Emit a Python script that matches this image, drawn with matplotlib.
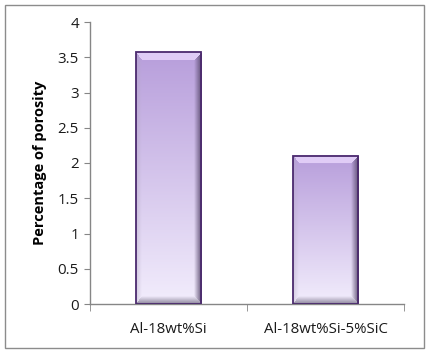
import numpy as np
import matplotlib.pyplot as plt
from matplotlib.patches import Rectangle

alloys = ['Al-18wt%Si', 'Al-18wt%Si-5%SiC']
porosity = [3.57, 2.10]
yticks = [0, 0.5, 1, 1.5, 2, 2.5, 3, 3.5, 4]

W, H = 429, 353
fig = plt.figure(figsize=(W / 100, H / 100), dpi=100)
ax = fig.add_axes([90 / W, 1 - 304 / H, (404 - 90) / W, (304 - 22) / H])

# outer chart border
fig.patches.append(Rectangle((5 / W, 5 / H), 419 / W, 343 / H, transform=fig.transFigure,
                             fill=False, edgecolor='#8c8c8c', linewidth=1.0))

ax.set_xlim(-0.5, 1.5)
ax.set_ylim(0, 4)
width = 0.42

# pixels per data unit, used to keep the bevel the same thickness on each bar
px_x = (404 - 90) / 2.0
px_y = (304 - 22) / 4.0

top_c = np.array([0.72, 0.62, 0.86])
bot_c = np.array([0.95, 0.93, 0.99])


def bar_image(h):
    nw = int(round(width * px_x))
    nh = max(int(round(h * px_y)), 2)
    yy, xx = np.mgrid[0:nh, 0:nw]
    t = 1 - yy / (nh - 1)  # 1 at top
    img = bot_c + (top_c - bot_c) * t[..., None]
    d_top = yy + 0.5
    d_bot = nh - yy - 0.5
    d_left = xx + 0.5
    d_right = nw - xx - 0.5
    bw = [8, 8, 6, 8]
    nd = np.stack([d_top / bw[0], d_bot / bw[1], d_left / bw[2], d_right / bw[3]])
    which = nd.argmin(axis=0)
    inside = nd.min(axis=0) < 1
    k = np.clip(1 - nd.min(axis=0), 0, 1)[..., None]
    light = np.array([0.93, 0.86, 1.0])
    grey = np.array([0.50, 0.47, 0.56])
    dark = np.array([0.36, 0.30, 0.44])
    mix = img.copy()
    m = inside & (which == 0)
    mix[m] = (img * 0.25 + light * 0.75)[m]
    m = inside & (which == 1)
    mix[m] = (img * (1 - k * 0.9) + grey * k * 0.9)[m]
    m = inside & (which == 2)
    mix[m] = (img * (1 - k * 0.45) + np.array([0.70, 0.66, 0.76]) * k * 0.45)[m]
    m = inside & (which == 3)
    mix[m] = (img * (1 - k) + dark * k)[m]
    return mix


for i, v in enumerate(porosity):
    x0 = i - width / 2
    ax.imshow(bar_image(v), extent=(x0, x0 + width, 0, v), aspect='auto',
              interpolation='bilinear', zorder=2)
    ax.add_patch(Rectangle((x0, 0), width, v, fill=False, edgecolor='#4b2a6e',
                           linewidth=1.3, zorder=3))

ax.set_xlim(-0.5, 1.5)
ax.set_ylim(0, 4)

ax.set_yticks(yticks)
ax.set_yticklabels([f'{t:g}' for t in yticks])
ax.set_xticks([0, 1])
ax.set_xticklabels(alloys)
ax.set_xticks([-0.5, 0.5, 1.5], minor=True)
ax.tick_params(axis='x', which='major', length=0, pad=13)
ax.tick_params(axis='x', which='minor', length=5, direction='out', color='#868686')
ax.tick_params(axis='y', length=4, direction='out', color='#868686', pad=4)
for lab in ax.get_xticklabels() + ax.get_yticklabels():
    lab.set_fontfamily('Open Sans')
    lab.set_fontsize(10.8)
    lab.set_color('#1a1a1a')

for s in ['top', 'right']:
    ax.spines[s].set_visible(False)
for s in ['left', 'bottom']:
    ax.spines[s].set_color('#868686')
    ax.spines[s].set_linewidth(1.0)

ax.set_ylabel('Percentage of porosity', fontfamily='Open Sans', fontsize=10.5,
              fontweight='bold', labelpad=8)

fig.savefig('out.png', dpi=100)
